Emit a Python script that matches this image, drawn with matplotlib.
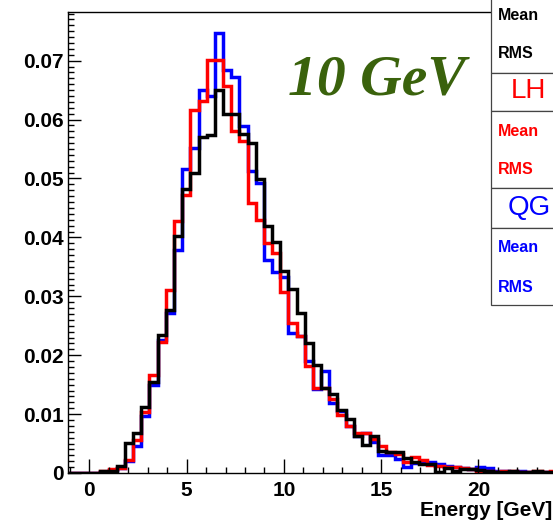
import numpy as np
import matplotlib
matplotlib.use("Agg")
import matplotlib.pyplot as plt
from matplotlib.patches import Rectangle
from matplotlib.ticker import MultipleLocator, FuncFormatter

W, H = 553, 523

# ---------------- histogram binning ----------------
BIN_LO = 0.15
BIN_W = 0.42

# ---------------- data (normalised counts per bin) ----------------
black_vals = [0, 0.0004, 0.0004, 0.0012, 0.0051, 0.0068, 0.0112, 0.0155, 0.0235, 0.0277,
              0.0402, 0.0482, 0.0509, 0.0570, 0.0574, 0.0650, 0.0609, 0.0609, 0.0576, 0.0561,
              0.0499, 0.0419, 0.0393, 0.0343, 0.0312, 0.0271, 0.0220, 0.0183, 0.0144, 0.0134,
              0.0107, 0.0091, 0.0062, 0.0048, 0.0063, 0.0037, 0.0036, 0.0035, 0.0025, 0.0019,
              0.0016, 0.0016, 0.0002, 0.0008, 0.0004, 0.0006, 0.0006, 0.0005, 0.0003, 0.0002,
              0.0002, 0.0003, 0.0002, 0.0001, 0.0003, 0.0002, 0.0002]

red_vals = [0, 0.0004, 0.0007, 0.0008, 0.0022, 0.0056, 0.0104, 0.0166, 0.0222, 0.0311,
            0.0428, 0.0472, 0.0617, 0.0632, 0.0702, 0.0702, 0.0657, 0.0580, 0.0563, 0.0458,
            0.0430, 0.0391, 0.0373, 0.0308, 0.0255, 0.0233, 0.0182, 0.0145, 0.0144, 0.0125,
            0.0098, 0.0080, 0.0068, 0.0068, 0.0058, 0.0046, 0.0036, 0.0033, 0.0019, 0.0027,
            0.0022, 0.0013, 0.0012, 0.0011, 0.0011, 0.0009, 0.0007, 0.0003, 0.0003, 0.0002,
            0.0004, 0.0003, 0.0002, 0.0002, 0.0003, 0.0002, 0.0003]

blue_vals = [0, 0.0002, 0.0005, 0.0008, 0.0020, 0.0046, 0.0096, 0.0149, 0.0226, 0.0271,
             0.0379, 0.0516, 0.0551, 0.0650, 0.0640, 0.0747, 0.0684, 0.0673, 0.0589, 0.0512,
             0.0492, 0.0362, 0.0342, 0.0333, 0.0237, 0.0232, 0.0190, 0.0143, 0.0173, 0.0118,
             0.0105, 0.0079, 0.0063, 0.0068, 0.0053, 0.0030, 0.0030, 0.0024, 0.0011, 0.0017,
             0.0018, 0.0018, 0.0016, 0.0012, 0.0010, 0.0009, 0.0006, 0.0010, 0.0008, 0.0004,
             0.0003, 0.0002, 0.0003, 0.0002, 0.0002, 0.0002, 0.0002]

x_ticks = [0, 5, 10, 15, 20]
y_ticks = [0, 0.01, 0.02, 0.03, 0.04, 0.05, 0.06, 0.07]

title = "10 GeV"
x_label = "Energy [GeV]"
stat_rows = ["Mean", "RMS"]
box_titles = [("LH", "#ff0000"), ("QG", "#0000ff")]

plt.rcParams['font.family'] = ['Liberation Sans', 'DejaVu Sans']


def fx(px):
    return px / W


def fy(py):
    return 1 - py / H


fig = plt.figure(figsize=(W / 100, H / 100), dpi=100)

# axes frame: left at 68px, bottom 473px, top 12px, runs past the right edge
XMIN, PX_PER_UNIT = -1.1, 19.45
ax_right_px = 610
ax = fig.add_axes([fx(68), fy(473), fx(ax_right_px - 68), (473 - 12) / H])
ax.set_xlim(XMIN, XMIN + (ax_right_px - 68) / PX_PER_UNIT)
ax.set_ylim(0, 461 / 5890)

n = len(black_vals)
edges = np.r_[XMIN - 0.2, BIN_LO + BIN_W * np.arange(n + 1)]
for vals, col in [(blue_vals, "#0000ff"), (red_vals, "#ff0000"), (black_vals, "black")]:
    ax.stairs(np.r_[0, vals], edges, baseline=None, color=col, lw=2.5,
              joinstyle="miter")

ax.set_xticks(x_ticks)
ax.set_yticks(y_ticks)
ax.xaxis.set_minor_locator(MultipleLocator(1))
ax.yaxis.set_minor_locator(MultipleLocator(0.001))
ax.yaxis.set_major_formatter(FuncFormatter(lambda v, p: "0" if v == 0 else f"{v:.2f}"))
ax.tick_params(which="both", direction="in", top=False, right=False, width=1)
ax.tick_params(axis="x", which="major", length=10, pad=6)
ax.tick_params(axis="y", which="major", length=9, pad=3)
ax.tick_params(which="minor", length=4.5)
for lab in ax.get_xticklabels() + ax.get_yticklabels():
    lab.set_fontweight("bold")
    lab.set_fontsize(15)
for s in ax.spines.values():
    s.set_linewidth(1)

fig.text(fx(552), fy(511), x_label, ha="right", va="center",
         fontsize=15, fontweight="bold")

fig.text(fx(288), fy(95), title, ha="left", va="baseline",
         family=["Liberation Serif", "DejaVu Serif"], style="italic",
         fontweight="bold", fontsize=41.5, color="#3a620c")

# ---------------- stats boxes ----------------
boxes = [(-5, 72.7), (72.7, 110.7), (110.7, 188.3), (188.3, 228.3), (228.3, 305)]
for top, bot in boxes:
    fig.patches.append(Rectangle((fx(491), fy(bot)), fx(120), (bot - top) / H,
                                 transform=fig.transFigure, facecolor="white",
                                 edgecolor="#444444", lw=0.9, zorder=5))

stat_sets = [("black", 15.7, 53), ("#ff0000", 131.7, 170), ("#0000ff", 248, 287)]
for col, y1, y2 in stat_sets:
    for lab, yy in zip(stat_rows, (y1, y2)):
        fig.text(fx(498), fy(yy), lab, ha="left", va="center", color=col,
                 fontsize=11.5, fontweight="bold", zorder=6)

for (lab, col), (x0, yy) in zip(box_titles, [(510.5, 91), (507.5, 208)]):
    fig.text(fx(x0), fy(yy), lab, ha="left", va="center", color=col,
             fontsize=20, zorder=6)

fig.savefig("out.png", dpi=100)
